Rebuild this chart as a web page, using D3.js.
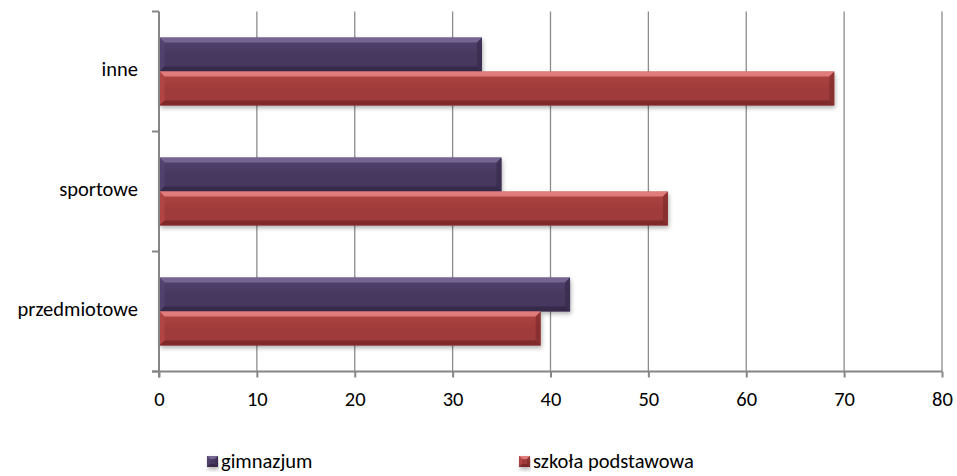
<!DOCTYPE html>
<html><head><meta charset="utf-8">
<script src="https://cdn.jsdelivr.net/npm/d3@7"></script>
<style>
html,body{margin:0;padding:0;background:#fff;}
svg text{font-family:Carlito, Calibri, Lato, "Open Sans", sans-serif;font-size:20.5px;fill:#000;}
</style></head>
<body>
<svg id="chart" width="957" height="476"></svg>
<script>
const categories = ["inne", "sportowe", "przedmiotowe"];
const seriesNames = ["gimnazjum", "szkoła podstawowa"];
const gimnazjum = [33, 35, 42];
const szkolaPodstawowa = [69, 52, 39];
const xTicks = [0, 10, 20, 30, 40, 50, 60, 70, 80];

const seriesValues = [gimnazjum, szkolaPodstawowa];
const colors = [
  {base:"#46385e", light:"#7d6e9a", dark:"#2f2442", mid:"#524270"},
  {base:"#a03b3a", light:"#ec8a88", dark:"#6f2423", mid:"#b04645"}
];

const svg = d3.select("#chart");
const mLeft = 159, mRight = 942, mTop = 11.5, mBottom = 371.5;

const x = d3.scaleLinear().domain([0, 80]).range([mLeft, mRight]);
const y = d3.scaleBand().domain(categories).range([mTop, mBottom]).padding(0);
const ys = d3.scaleBand().domain(seriesNames).range([0, y.bandwidth()]).paddingInner(0).paddingOuter(0.765);

const defs = svg.append("defs");
const f = defs.append("filter").attr("id","shadow").attr("x","-5%").attr("y","-20%").attr("width","110%").attr("height","160%");
f.append("feDropShadow").attr("dx",1).attr("dy",2.5).attr("stdDeviation",2).attr("flood-color","#000").attr("flood-opacity",0.3);
colors.forEach((c,i)=>{
  const g = defs.append("linearGradient").attr("id","g"+i).attr("x1",0).attr("y1",0).attr("x2",0).attr("y2",1);
  g.append("stop").attr("offset","0%").attr("stop-color",c.mid);
  g.append("stop").attr("offset","50%").attr("stop-color",c.base);
  g.append("stop").attr("offset","100%").attr("stop-color",c.base);
});

svg.append("g").selectAll("line").data(xTicks.filter(t=>t>0)).join("line")
  .attr("x1",d=>x(d)).attr("x2",d=>x(d)).attr("y1",mTop).attr("y2",mBottom)
  .attr("stroke","#8c8c8c").attr("stroke-width",1.3);

function bevelBar(g, x0, y0, w, h, ci, bv){
  const c = colors[ci];
  g.append("rect").attr("x",x0).attr("y",y0).attr("width",w).attr("height",h)
    .attr("fill","url(#g"+ci+")").attr("filter","url(#shadow)");
  const b = Math.min(bv, w/2, h/2);
  g.append("path").attr("d",`M${x0},${y0}L${x0+w},${y0}L${x0+w-b},${y0+b}L${x0+b},${y0+b}Z`).attr("fill",c.light).attr("opacity",0.8);
  g.append("path").attr("d",`M${x0},${y0}L${x0+b},${y0+b}L${x0+b},${y0+h-b}L${x0},${y0+h}Z`).attr("fill",c.mid).attr("opacity",0.9);
  g.append("path").attr("d",`M${x0+w},${y0}L${x0+w},${y0+h}L${x0+w-b},${y0+h-b}L${x0+w-b},${y0+b}Z`).attr("fill",c.dark).attr("opacity",0.5);
  g.append("path").attr("d",`M${x0},${y0+h}L${x0+w},${y0+h}L${x0+w-b},${y0+h-b}L${x0+b},${y0+h-b}Z`).attr("fill",c.dark).attr("opacity",0.7);
}

const barsG = svg.append("g");
categories.forEach((cat, ci) => {
  seriesNames.forEach((s, si) => {
    const v = seriesValues[si][ci];
    bevelBar(barsG, x(0)+0.5, y(cat)+ys(s), x(v)-x(0)-0.5, ys.bandwidth(), si, 5);
  });
});

const axisColor = "#868686";
svg.append("line").attr("x1",mLeft).attr("x2",mLeft).attr("y1",mTop).attr("y2",mBottom+6).attr("stroke",axisColor).attr("stroke-width",2);
svg.append("g").selectAll("line").data(d3.range(categories.length+1)).join("line")
  .attr("x1",mLeft-7).attr("x2",mLeft).attr("y1",d=>mTop+d*y.step()).attr("y2",d=>mTop+d*y.step())
  .attr("stroke",axisColor).attr("stroke-width",2);
svg.append("g").selectAll("text").data(categories).join("text")
  .attr("x",138).attr("y",d=>y(d)+y.bandwidth()/2).attr("text-anchor","end").attr("dominant-baseline","middle").text(d=>d);

const xAxis = svg.append("g").attr("transform",`translate(0,${mBottom})`)
  .call(d3.axisBottom(x).tickValues(xTicks).tickSize(6).tickPadding(14).tickFormat(d3.format("d")));
xAxis.select(".domain").attr("d",`M${mLeft-7},0H${mRight}`).attr("stroke",axisColor).attr("stroke-width",2);
xAxis.selectAll(".tick line").attr("stroke",axisColor).attr("stroke-width",2);
xAxis.selectAll(".tick text").style("font-size","20.5px").style("font-family","Carlito, Calibri, Lato, sans-serif").attr("fill","#000");

const legend = svg.append("g");
const legX = [207, 519];
seriesNames.forEach((s, i) => {
  bevelBar(legend, legX[i], 456, 11, 11, i, 3);
  legend.append("text").attr("x",legX[i]+14).attr("y",468).text(s);
});
</script>
</body></html>
